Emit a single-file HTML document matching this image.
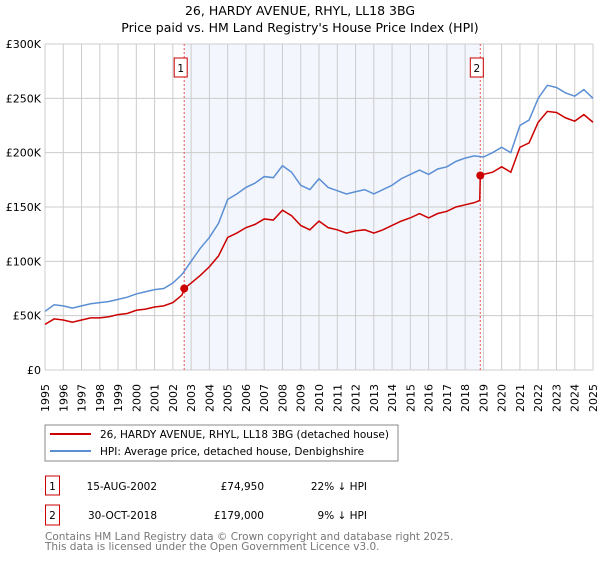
<!DOCTYPE html>
<html><head><meta charset="utf-8"><style>
body{margin:0;background:#fff;font-family:"DejaVu Sans","Liberation Sans",sans-serif;}
svg text{font-family:"DejaVu Sans","Liberation Sans",sans-serif;}
</style></head><body>
<svg id="chart" width="600" height="560" xmlns="http://www.w3.org/2000/svg">
<text x="300" y="15" text-anchor="middle" font-size="12.5">26, HARDY AVENUE, RHYL, LL18 3BG</text>
<text x="300" y="32" text-anchor="middle" font-size="12.5">Price paid vs. HM Land Registry's House Price Index (HPI)</text>
<g id="plot"></g>
<rect x="45" y="425" width="353" height="36" fill="#fff" stroke="#888"/>
<line x1="50" y1="434" x2="91" y2="434" stroke="#cc0000" stroke-width="2"/>
<text x="100" y="438" font-size="10.5">26, HARDY AVENUE, RHYL, LL18 3BG (detached house)</text>
<line x1="50" y1="451" x2="91" y2="451" stroke="#5b8fd4" stroke-width="2"/>
<text x="100" y="455" font-size="10.5">HPI: Average price, detached house, Denbighshire</text>
<g font-size="10.5">
<rect x="45.5" y="476" width="14" height="19" fill="none" stroke="#cc0000"/>
<text x="52.5" y="490" text-anchor="middle">1</text>
<text x="157" y="490" text-anchor="end">15-AUG-2002</text>
<text x="264" y="490" text-anchor="end">£74,950</text>
<text x="367" y="490" text-anchor="end">22% ↓ HPI</text>
<rect x="45.5" y="505" width="14" height="20" fill="none" stroke="#cc0000"/>
<text x="52.5" y="519" text-anchor="middle">2</text>
<text x="157" y="519" text-anchor="end">30-OCT-2018</text>
<text x="264" y="519" text-anchor="end">£179,000</text>
<text x="367" y="519" text-anchor="end">9% ↓ HPI</text>
</g>
<text x="45" y="540" font-size="10.5" fill="#777">Contains HM Land Registry data © Crown copyright and database right 2025.</text>
<text x="45" y="550" font-size="10.5" fill="#777">This data is licensed under the Open Government Licence v3.0.</text>
</svg>
<script>
const hpiDates=[1995,1995.5,1996,1996.5,1997,1997.5,1998,1998.5,1999,1999.5,2000,2000.5,2001,2001.5,2002,2002.5,2003,2003.5,2004,2004.5,2005,2005.5,2006,2006.5,2007,2007.5,2008,2008.5,2009,2009.5,2010,2010.5,2011,2011.5,2012,2012.5,2013,2013.5,2014,2014.5,2015,2015.5,2016,2016.5,2017,2017.5,2018,2018.5,2019,2019.5,2020,2020.5,2021,2021.5,2022,2022.5,2023,2023.5,2024,2024.5,2025];
const hpiValues=[54,60,59,57,59,61,62,63,65,67,70,72,74,75,80,88,100,112,122,135,157,162,168,172,178,177,188,182,170,166,176,168,165,162,164,166,162,166,170,176,180,184,180,185,187,192,195,197,196,200,205,200,225,230,250,262,260,255,252,258,250];
const propDates=[1995,1995.5,1996,1996.5,1997,1997.5,1998,1998.5,1999,1999.5,2000,2000.5,2001,2001.5,2002,2002.5,2002.62,2003,2003.5,2004,2004.5,2005,2005.5,2006,2006.5,2007,2007.5,2008,2008.5,2009,2009.5,2010,2010.5,2011,2011.5,2012,2012.5,2013,2013.5,2014,2014.5,2015,2015.5,2016,2016.5,2017,2017.5,2018,2018.5,2018.8,2018.83,2019,2019.5,2020,2020.5,2021,2021.5,2022,2022.5,2023,2023.5,2024,2024.5,2025];
const propValues=[42,47,46,44,46,48,48,49,51,52,55,56,58,59,62,69,74.95,80,87,95,105,122,126,131,134,139,138,147,142,133,129,137,131,129,126,128,129,126,129,133,137,140,144,140,144,146,150,152,154,156,179,180,182,187,182,205,209,228,238,237,232,229,235,228];
const saleDates=[2002.62,2018.83];
const saleValues=[74.95,179];
const saleLabels=["1","2"];
const yTicks=[0,50,100,150,200,250,300];
const yTickLabels=["£0","£50K","£100K","£150K","£200K","£250K","£300K"];
const xYears=[1995,1996,1997,1998,1999,2000,2001,2002,2003,2004,2005,2006,2007,2008,2009,2010,2011,2012,2013,2014,2015,2016,2017,2018,2019,2020,2021,2022,2023,2024,2025];

const L=45,R=593,T=44,B=370;
const xs=d=>L+(d-1995)/30*(R-L);
const ys=v=>B-v/300*(B-T);
const NS="http://www.w3.org/2000/svg";
const g=document.getElementById('plot');
function mk(tag,attrs){const e=document.createElementNS(NS,tag);for(const k in attrs)e.setAttribute(k,attrs[k]);g.appendChild(e);return e;}

const shade=mk('rect',{x:xs(saleDates[0]),y:T,width:xs(saleDates[1])-xs(saleDates[0]),height:B-T,fill:'#f0f4fd',opacity:0.8});


xYears.forEach(yr=>{
  const l=mk('line',{x1:xs(yr),x2:xs(yr),y1:T,y2:B,stroke:'#ccc','stroke-width':1});
  
  
  const t=mk('text',{x:0,y:0,'font-size':11,transform:`translate(${xs(yr)+4},${B+42}) rotate(-90)`});
  t.textContent=yr;
  
  
});
yTicks.forEach((v,i)=>{
  const l=mk('line',{x1:L,x2:R,y1:ys(v),y2:ys(v),stroke:'#ccc','stroke-width':1});
  
  
  const t=mk('text',{x:L-4,y:ys(v)+4,'font-size':11,'text-anchor':'end'});
  t.textContent=yTickLabels[i];
  
  
});
saleDates.forEach((d,i)=>{
  const l=mk('line',{x1:xs(d),x2:xs(d),y1:T,y2:B,stroke:'#ee5555','stroke-width':1,'stroke-dasharray':'2,2'});
  
  
  const r=mk('rect',{x:xs(d)-10,y:T+14,width:13,height:19,fill:'#fff',stroke:'#cc0000'});
  
  
  const t=mk('text',{x:xs(d)-3.5,y:T+28,'font-size':10.5,'text-anchor':'middle'});
  t.textContent=saleLabels[i];
  
  
});
const hp=mk('polyline',{points:hpiDates.map((d,i)=>xs(d)+','+ys(hpiValues[i])).join(' '),fill:'none',stroke:'#5b8fd4','stroke-width':1.5});


const pp=mk('polyline',{points:propDates.map((d,i)=>xs(d)+','+ys(propValues[i])).join(' '),fill:'none',stroke:'#cc0000','stroke-width':1.5});


saleDates.forEach((d,i)=>{
  const c=mk('circle',{cx:xs(d),cy:ys(saleValues[i]),r:4,fill:'#cc0000'});
  
  
});
</script>
</body></html>
